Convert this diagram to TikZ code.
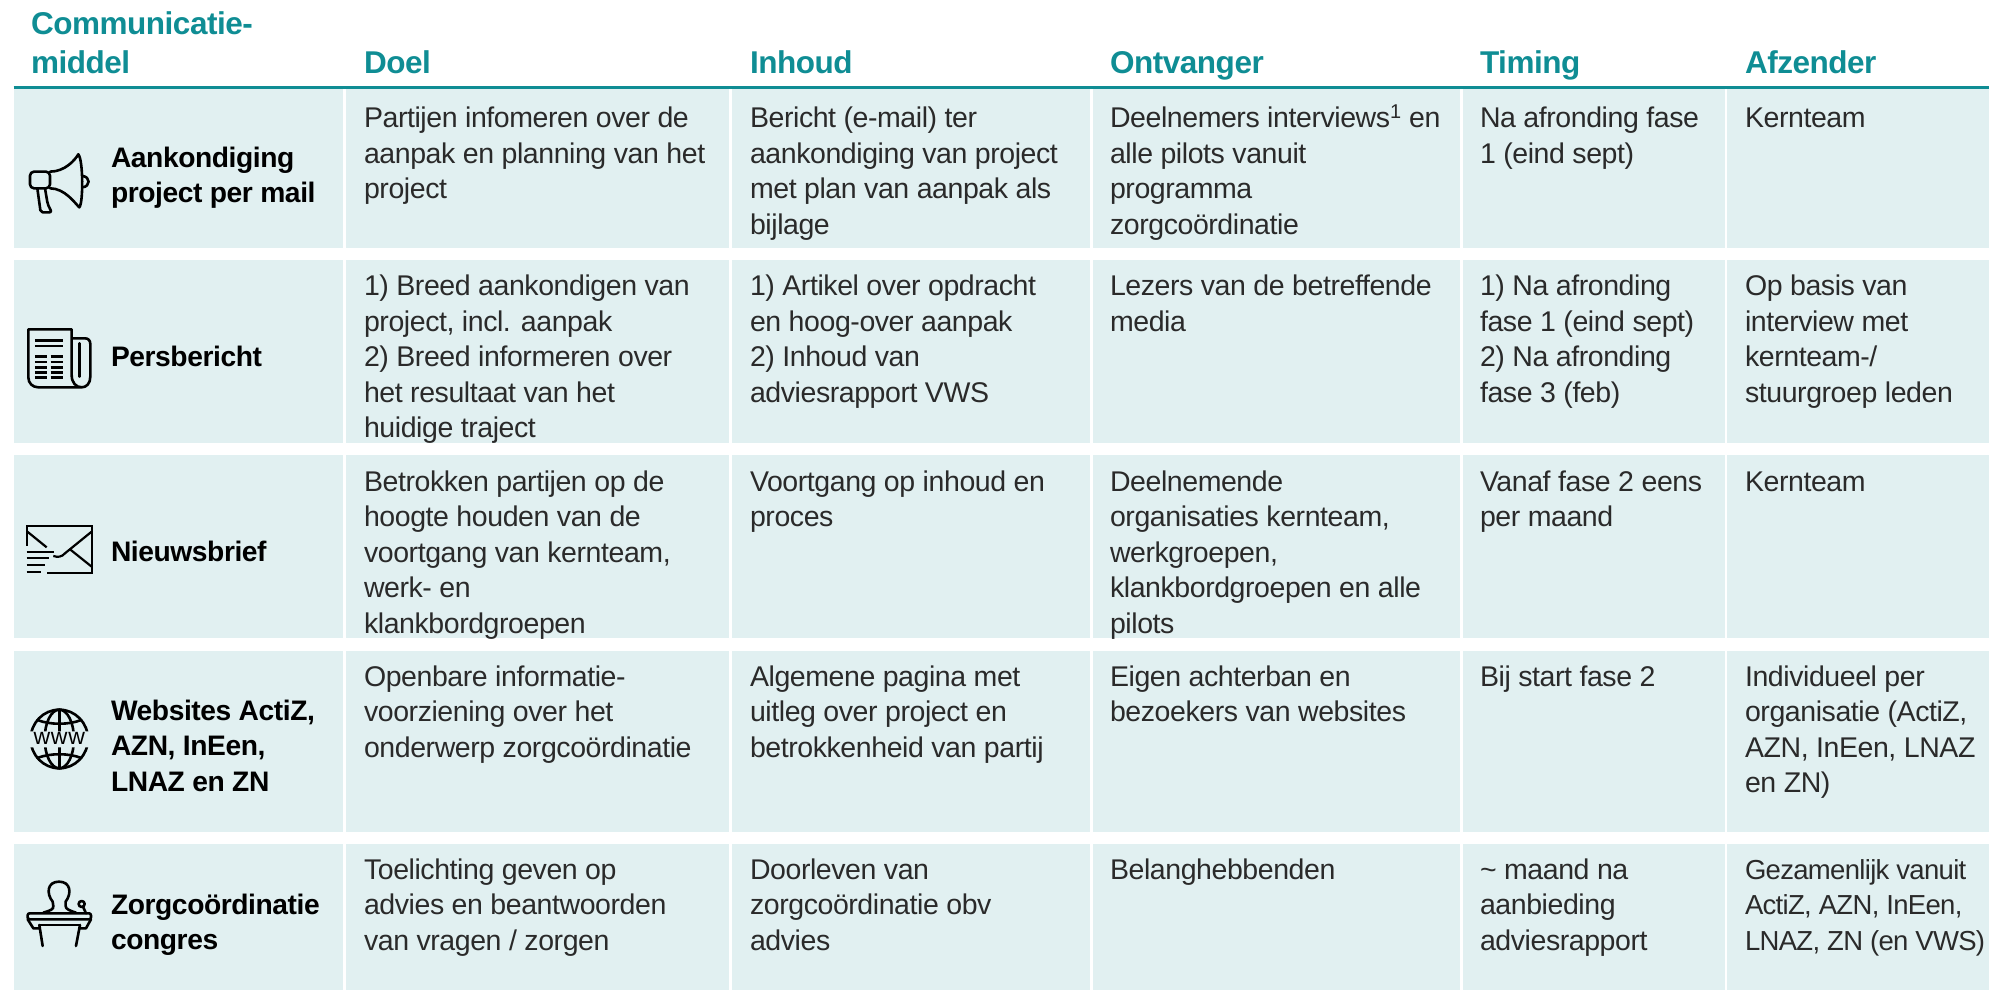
\documentclass[tikz,border=0pt]{standalone}
\usepackage{fontspec}
\setmainfont{Liberation Sans}[LetterSpace=-1.5]
\definecolor{teal1}{HTML}{0F8D94}
\definecolor{cellfill}{HTML}{E1F0F1}
\definecolor{ink}{HTML}{2A2A2A}
\tikzset{
  cellbox/.style={fill=cellfill,draw=none,inner sep=0pt,outer sep=0pt,minimum width=#1,anchor=north west},
  lines/.style={yshift={-(#1-1)*35.5pt}},
  body/.style={anchor=base west,inner sep=0pt,outer sep=0pt,align=left,text=ink,font=\fontsize{28.5}{35.5}\selectfont},
  head/.style={anchor=base west,inner sep=0pt,outer sep=0pt,align=left,text=teal1,font=\fontsize{31.5}{39}\selectfont\bfseries},
  lab/.style={anchor=base west,inner sep=0pt,outer sep=0pt,align=left,text=black,font=\fontsize{28.2}{35.5}\selectfont\bfseries},
  icon/.style={line width=2.6pt,black,line cap=round,line join=round},
  thinicon/.style={line width=2.2pt,black,line cap=butt}
}
\newcommand{\rowcells}[4]{%
  \node[cellbox=329.5pt,minimum height=#3] (c1#1) at (13.5,#2) {};
  \node[cellbox=383pt,minimum height=#3] (c2#1) at (346,#2) {};
  \node[cellbox=358pt,minimum height=#3] (c3#1) at (732,#2) {};
  \node[cellbox=367pt,minimum height=#3] (c4#1) at (1093,#2) {};
  \node[cellbox=262pt,minimum height=#3] (c5#1) at (1463,#2) {};
  \node[cellbox=264pt,minimum height=#3] (c6#1) at (1727,#2) {};
}
\begin{document}
\begin{tikzpicture}[x=1pt,y=-1pt]
\useasboundingbox (0,0) rectangle (1989,990);
\rowcells{a}{88}{160pt}{}
\rowcells{b}{260}{183pt}{}
\rowcells{c}{455}{183pt}{}
\rowcells{d}{651}{181pt}{}
\rowcells{e}{844}{146pt}{}
\coordinate (ruleL) at (13.5,87);
\coordinate (ruleR) at (1989,87);
\draw[teal1,line width=3pt] (ruleL) -- (ruleR);
% headers
\node[head] (h1) at (31,35) {Communicatie-};
\node[head] (h1b) at (31,74) {middel};
\node[head] (h2) at (364,74) {Doel};
\node[head] (h3) at (750,74) {Inhoud};
\node[head] (h4) at (1110,74) {Ontvanger};
\node[head] (h5) at (1480,74) {Timing};
\node[head] (h6) at (1745,74) {Afzender};
% labels
\node[lab,lines=2] (l1) at (111,167) {Aankondiging\\project per mail};
\node[lab] (l2) at (111,366) {Persbericht};
\node[lab] (l3) at (111,561) {Nieuwsbrief};
\node[lab,lines=3] (l4) at (111,720) {Websites ActiZ,\\AZN, InEen,\\LNAZ en ZN};
\node[lab,lines=2] (l5) at (111,914) {Zorgcoördinatie\\congres};
% row a
\node[body,lines=3] (a2) at (364,127.5) {Partijen infomeren over de\\aanpak en planning van het\\project};
\node[body,lines=4] (a3) at (750,127.5) {Bericht (e-mail) ter\\aankondiging van project\\met plan van aanpak als\\bijlage};
\node[body,lines=4] (a4) at (1110,127.5) {Deelnemers interviews\textsuperscript{1} en\\alle pilots vanuit\\programma\\zorgcoördinatie};
\node[body,lines=2] (a5) at (1480,127.5) {Na afronding fase\\1 (eind sept)};
\node[body] (a6) at (1745,127.5) {Kernteam};
% row b
\node[body,lines=5] (b2) at (364,295.5) {1) Breed aankondigen van\\project, incl. aanpak\\2) Breed informeren over\\het resultaat van het\\huidige traject};
\node[body,lines=4] (b3) at (750,295.5) {1) Artikel over opdracht\\en hoog-over aanpak\\2) Inhoud van\\adviesrapport VWS};
\node[body,lines=2] (b4) at (1110,295.5) {Lezers van de betreffende\\media};
\node[body,lines=4] (b5) at (1480,295.5) {1) Na afronding\\fase 1 (eind sept)\\2) Na afronding\\fase 3 (feb)};
\node[body,lines=4] (b6) at (1745,295.5) {Op basis van\\interview met\\kernteam-/\\stuurgroep leden};
% row c
\node[body,lines=5] (c2) at (364,491) {Betrokken partijen op de\\hoogte houden van de\\voortgang van kernteam,\\werk- en\\klankbordgroepen};
\node[body,lines=2] (c3) at (750,491) {Voortgang op inhoud en\\proces};
\node[body,lines=5] (c4) at (1110,491) {Deelnemende\\organisaties kernteam,\\werkgroepen,\\klankbordgroepen en alle\\pilots};
\node[body,lines=2] (c5) at (1480,491) {Vanaf fase 2 eens\\per maand};
\node[body] (c6) at (1745,491) {Kernteam};
% row d
\node[body,lines=3] (d2) at (364,686) {Openbare informatie-\\voorziening over het\\onderwerp zorgcoördinatie};
\node[body,lines=3] (d3) at (750,686) {Algemene pagina met\\uitleg over project en\\betrokkenheid van partij};
\node[body,lines=2] (d4) at (1110,686) {Eigen achterban en\\bezoekers van websites};
\node[body] (d5) at (1480,686) {Bij start fase 2};
\node[body,lines=4] (d6) at (1745,686) {Individueel per\\organisatie (ActiZ,\\AZN, InEen, LNAZ\\en ZN)};
% row e
\node[body,lines=3] (e2) at (364,879) {Toelichting geven op\\advies en beantwoorden\\van vragen / zorgen};
\node[body,lines=3] (e3) at (750,879) {Doorleven van\\zorgcoördinatie obv\\advies};
\node[body] (e4) at (1110,879) {Belanghebbenden};
\node[body,lines=3] (e5) at (1480,879) {\textasciitilde{} maand na\\aanbieding\\adviesrapport};
\node[body,lines=3,font=\fontsize{27.5}{35.5}\selectfont\addfontfeatures{LetterSpace=-2.5}] (e6) at (1745,879) {Gezamenlijk vanuit\\ActiZ, AZN, InEen,\\LNAZ, ZN (en VWS)};
% megaphone
\begin{scope}[x=0.3333pt,y=-0.3333pt,icon]
\draw (150,515) .. controls (195,515) and (225,480) .. (235,463) .. controls (250,480) and (250,610) .. (238,622) .. controls (225,610) and (195,565) .. (150,565);
\draw[rounded corners=4pt] (150,515) -- (90,515) -- (90,565) -- (150,565) -- cycle;
\draw[rounded corners=2pt] (112,565) -- (122,637) -- (155,637) -- (143,612) -- (135,565);
\draw (247,528) .. controls (272,530) and (272,560) .. (247,562);
\end{scope}
% newspaper
\begin{scope}[shift={(0,260)},x=0.3333pt,y=-0.3333pt,icon]
\draw (215,235) -- (255,235) .. controls (265,235) and (271,242) .. (271,252) -- (271,350) .. controls (271,370) and (260,382) .. (245,382) -- (115,382) .. controls (98,382) and (85,370) .. (85,352) -- (85,208) -- (215,208) -- (215,345) .. controls (215,368) and (228,382) .. (245,382);
\draw (238,250) -- (238,350);
\draw[line cap=butt] (105,242) -- (190,242) (105,258) -- (190,258);
\foreach \yy in {290,306,322,338,352} { \draw[line cap=butt] (105,\yy) -- (140,\yy) (152,\yy) -- (190,\yy); }
\end{scope}
% envelope
\begin{scope}[shift={(0,260)},x=0.3333pt,y=-0.3333pt,thinicon]
\draw (82,858) -- (82,798) -- (275,798) -- (275,938) -- (140,938);
\draw (82,815) -- (140,862);
\draw (275,815) -- (195,880) .. controls (185,892) and (172,892) .. (160,888);
\draw (210,868) -- (275,920);
\draw (80,875) -- (162,875) (80,895) -- (148,895) (80,915) -- (135,915) (80,935) -- (122,935);
\end{scope}
% globe
\begin{scope}[shift={(0,630)},x=0.3333pt,y=-0.3333pt,icon]
\begin{scope}
\clip (80,230) -- (280,230) -- (280,304) -- (80,304) -- cycle (80,352) -- (280,352) -- (280,425) -- (80,425) -- cycle;
\draw (178,327) circle[x radius=86,y radius=88];
\draw (178,327) circle[x radius=44,y radius=88];
\draw (178,239) -- (178,415);
\draw (112,270) .. controls (150,285) and (206,285) .. (244,270);
\draw (112,384) .. controls (150,369) and (206,369) .. (244,384);
\end{scope}
\node[inner sep=0pt,font=\fontsize{23}{23}\selectfont\addfontfeatures{LetterSpace=3},text=black] (www) at (178,326) {www};
\end{scope}
% podium
\begin{scope}[shift={(0,630)},x=0.3333pt,y=-0.3333pt,icon]
\draw (130,848) .. controls (150,842) and (162,838) .. (160,828) -- (158,815) .. controls (138,790) and (142,755) .. (177,755) .. controls (212,755) and (216,790) .. (197,815) -- (197,828) .. controls (197,838) and (210,842) .. (228,848);
\draw[rounded corners=2pt] (83,868) -- (83,850) -- (273,850) -- (273,868) -- cycle;
\draw (83,868) -- (100,895) -- (118,895) (273,868) -- (258,895) -- (238,895);
\draw (118,885) -- (238,885);
\draw (118,885) -- (128,948) (240,885) -- (228,948);
\draw (245,822) circle[radius=9];
\draw (250,832) -- (258,850);
\end{scope}
\end{tikzpicture}
\end{document}
